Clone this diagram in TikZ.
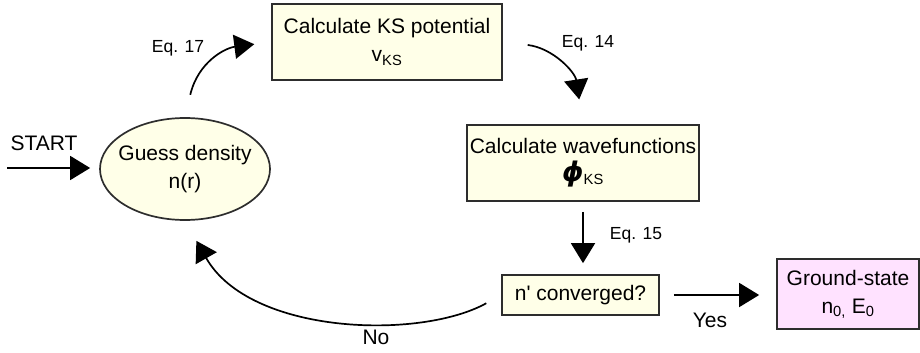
\documentclass[tikz,border=0pt]{standalone}
\usepackage{fontspec}
\setmainfont{Liberation Sans}
\newfontfamily\phifont{DejaVu Sans}
\usetikzlibrary{arrows.meta,shapes.geometric}

\definecolor{boxfill}{RGB}{255,255,232}
\definecolor{gsfill}{RGB}{255,226,255}
\definecolor{edgegray}{RGB}{45,45,45}

\newcommand\mainfs{\fontsize{21}{28}\selectfont}
\newcommand\eqfs{\fontsize{17.5}{20}\selectfont}

\begin{document}
\begin{tikzpicture}[x=1pt,y=-1pt,
  box/.style={draw=edgegray, line width=1.7pt, fill=boxfill, align=center,
              font=\mainfs, inner sep=0pt},
  flow/.style={line width=1.7pt, -{Triangle[length=20pt,width=24pt]}},
  lbl/.style={font=\eqfs, inner sep=0pt},
  big/.style={font=\mainfs, inner sep=0pt}]

\useasboundingbox (0,0) rectangle (920,353);

% process boxes
\node[box, ellipse, inner xsep=-7pt, minimum width=170pt, minimum height=102pt] (guess) at (185,169)
  {Guess density\\n(r)};
\node[box, minimum width=230pt, minimum height=76pt] (ks) at (387,42)
  {Calculate KS potential\\v\textsubscript{KS}};
\node[box, minimum width=232pt, minimum height=76pt] (wf) at (583,163)
  {Calculate wavefunctions\\{\phifont\fontsize{27}{28}\selectfont\bfseries\itshape ϕ}\textsubscript{KS}};
\node[box, minimum width=157pt, minimum height=40pt] (conv) at (580.5,295)
  {n\textquotesingle{} converged?};
\node[box, fill=gsfill, minimum width=142pt, minimum height=70pt] (gs) at (848,294)
  {Ground-state\\n\textsubscript{0,} E\textsubscript{0}};

% labels
\node[big] (startlbl) at (44,143) {START};
\node[lbl] (eq17) at (178,48) {Eq. 17};
\node[lbl] (eq14) at (588,43) {Eq. 14};
\node[lbl] (eq15) at (636,235) {Eq. 15};
\node[big] (yes) at (710,320) {Yes};
\node[big] (no) at (376,337) {No};

% connectors
\coordinate (startpt) at (7,168);
\draw[flow, shorten >=9pt] (startpt) -- (guess.west |- startpt);
\draw[flow, shorten <=23pt, shorten >=17pt]
  (guess.north) .. controls (198,62) and (225,48) .. (ks.west);
\draw[flow, shorten <=25pt, shorten >=25pt]
  (ks.east) .. controls (553,48) and (575,72) .. (wf.north);
\draw[flow, shorten <=10pt, shorten >=11pt] (wf.south) -- (wf.south |- conv.north);
\draw[flow, shorten <=14pt, shorten >=17pt] (conv.east) -- (gs.west |- conv.east);
\draw[flow, shorten <=17pt, shorten >=23pt]
  (conv.west) .. controls (420,340) and (250,335) .. (guess.south);

\end{tikzpicture}
\end{document}
